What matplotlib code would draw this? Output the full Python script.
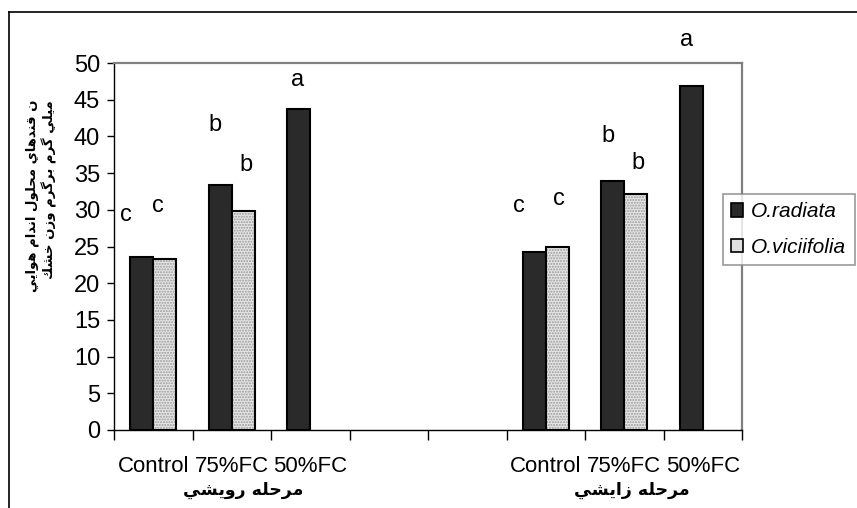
import matplotlib
matplotlib.use("Agg")
import matplotlib.pyplot as plt
import numpy as np
from matplotlib.patches import Patch
from matplotlib.lines import Line2D

# ---------------- data ----------------
categories = ["Control", "75%FC", "50%FC", "", "", "Control", "75%FC", "50%FC"]
series_names = ["O.radiata", "O.viciifolia"]
radiata = [23.6, 33.4, 43.7, np.nan, np.nan, 24.2, 33.9, 46.8]
viciifolia = [23.3, 29.9, np.nan, np.nan, np.nan, 24.9, 32.2, np.nan]
letters_radiata = ["c", "b", "a", "", "", "c", "b", "a"]
letters_viciifolia = ["c", "b", "", "", "", "c", "b", ""]
stage_labels = ["مرحله رويشي", "مرحله زايشي"]
ylabel_lines = ["ن قندهاي محلول اندام هوايي", "ميلي گرم برگرم وزن خشك"]
yticks = [0, 5, 10, 15, 20, 25, 30, 35, 40, 45, 50]

# layout of letter annotations (x in category units, y in data units)
let_rad_pos = [(-0.35, 29.3), (0.79, 41.6), (1.835, 47.7), None, None,
               (4.66, 30.5), (5.79, 40.1), (6.795, 53.2)]
let_vic_pos = [(0.056, 30.5), (1.187, 36.1), None, None, None,
               (5.173, 31.5), (6.175, 36.4), None]
stage_pos = [1.14, 6.10]

# ---------------- Arabic shaping (presentation forms) ----------------
FORMS = {
    "ا": ("\uFE8D", "\uFE8E", None, None),
    "ب": ("\uFE8F", "\uFE90", "\uFE91", "\uFE92"),
    "ح": ("\uFEA1", "\uFEA2", "\uFEA3", "\uFEA4"),
    "خ": ("\uFEA5", "\uFEA6", "\uFEA7", "\uFEA8"),
    "د": ("\uFEA9", "\uFEAA", None, None),
    "ر": ("\uFEAD", "\uFEAE", None, None),
    "ز": ("\uFEAF", "\uFEB0", None, None),
    "ش": ("\uFEB5", "\uFEB6", "\uFEB7", "\uFEB8"),
    "ق": ("\uFED5", "\uFED6", "\uFED7", "\uFED8"),
    "ك": ("\uFED9", "\uFEDA", "\uFEDB", "\uFEDC"),
    "ل": ("\uFEDD", "\uFEDE", "\uFEDF", "\uFEE0"),
    "م": ("\uFEE1", "\uFEE2", "\uFEE3", "\uFEE4"),
    "ن": ("\uFEE5", "\uFEE6", "\uFEE7", "\uFEE8"),
    "ه": ("\uFEE9", "\uFEEA", "\uFEEB", "\uFEEC"),
    "و": ("\uFEED", "\uFEEE", None, None),
    "ي": ("\uFEF1", "\uFEF2", "\uFEF3", "\uFEF4"),
    "گ": ("\uFB92", "\uFB93", "\uFB94", "\uFB95"),
}


def shape(text):
    out = []
    n = len(text)
    for i, ch in enumerate(text):
        if ch not in FORMS:
            out.append(ch)
            continue
        prev = text[i - 1] if i > 0 else None
        nxt = text[i + 1] if i + 1 < n else None
        jp = prev in FORMS and FORMS[prev][2] is not None
        jn = FORMS[ch][2] is not None and nxt in FORMS
        iso, fin, ini, med = FORMS[ch]
        if jp and jn:
            out.append(med)
        elif jp:
            out.append(fin)
        elif jn:
            out.append(ini)
        else:
            out.append(iso)
    return "".join(out)[::-1]


# ---------------- figure ----------------
W, H = 857, 508
fig = plt.figure(figsize=(W / 100, H / 100), dpi=100)
ax = fig.add_axes([114 / W, 1 - 430 / H, 628 / W, 367 / H])

LAT = "Liberation Sans"
x = np.arange(len(categories))
w = 0.295
ax.bar(x - w / 2, radiata, w, color="#2a2a2a", edgecolor="black", linewidth=1.5, zorder=2)
ax.bar(x + w / 2, viciifolia, w, color="#e6e6e6", edgecolor="#9a9a9a", hatch="......",
       linewidth=0, zorder=2)
ax.bar(x + w / 2, viciifolia, w, color="none", edgecolor="black", linewidth=1.5, zorder=3)

for lab, pos in zip(letters_radiata + letters_viciifolia, let_rad_pos + let_vic_pos):
    if lab and pos is not None:
        ax.text(pos[0], pos[1], lab, ha="center", va="center", fontsize=17,
                family=LAT, clip_on=False)

ax.set_xlim(-0.5, len(categories) - 0.5)
ax.set_ylim(0, 50)
ax.set_yticks(yticks)
ax.set_yticklabels([str(v) for v in yticks], family=LAT, fontsize=17)
ax.tick_params(axis="y", direction="out", length=5, width=1, pad=5)

ax.set_xticks(x)
ax.set_xticklabels(categories, family=LAT, fontsize=16)
ax.tick_params(axis="x", which="major", length=0, pad=19)
ax.set_xticks(np.arange(-0.5, len(categories), 1.0), minor=True)
ax.tick_params(axis="x", which="minor", direction="out", length=7, width=1)

for s in ["top", "right"]:
    ax.spines[s].set_color("#808080")
    ax.spines[s].set_linewidth(1.6)
for s in ["left", "bottom"]:
    ax.spines[s].set_color("black")
    ax.spines[s].set_linewidth(1.0)

# stage labels
for lab, px in zip(stage_labels, stage_pos):
    ax.text(px, -8.2, shape(lab), ha="center", va="center", fontsize=12.5,
            fontweight="bold", family="DejaVu Sans", clip_on=False)

# y label
fig.text(41 / W, 1 - 100 / H, "\n".join(shape(l) for l in ylabel_lines), rotation=90,
         ha="center", va="top", multialignment="right", fontsize=9.5,
         fontweight="bold", family="DejaVu Sans", linespacing=1.25)

# legend
handles = [Patch(facecolor="#2a2a2a", edgecolor="black", linewidth=1.2),
           Patch(facecolor="#e0e0e0", edgecolor="black", linewidth=1.2)]
leg = fig.legend(handles, series_names, loc="upper left",
                 bbox_to_anchor=(723 / W, 1 - 194 / H),
                 prop={"family": LAT, "style": "italic", "size": 15},
                 frameon=True, fancybox=False, edgecolor="#808080",
                 handlelength=0.55, handleheight=0.6, handletextpad=0.4,
                 labelspacing=0.8, borderpad=0.4, borderaxespad=0)
leg.get_frame().set_linewidth(1.2)

# outer frame (left and top)
fig.add_artist(Line2D([9 / W, 9 / W], [0, 1 - 12 / H], color="black", lw=1.2,
                      transform=fig.transFigure))
fig.add_artist(Line2D([9 / W, 1], [1 - 12 / H, 1 - 12 / H], color="black", lw=1.2,
                      transform=fig.transFigure))

fig.savefig("out.png", dpi=100)
